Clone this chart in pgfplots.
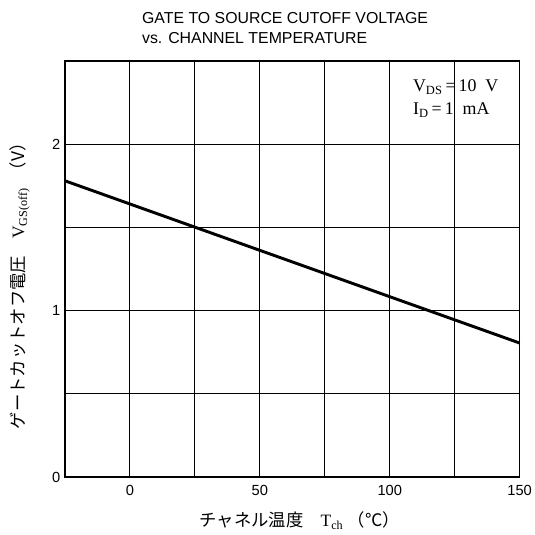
\documentclass[border=0pt]{standalone}
\usepackage{fontspec}
\setmainfont{Liberation Serif}
\newfontfamily\sans{Liberation Sans}
\newfontfamily\cjk{Noto Sans CJK JP}
\usepackage{pgfplots}
\pgfplotsset{compat=1.18}

\begin{document}
\begin{tikzpicture}
\begin{axis}[
    name=ax,
    scale only axis,
    width=341pt, height=312pt,
    xmin=-25, xmax=150,
    ymin=0, ymax=2.5,
    xtick={0,50,100,150},
    minor xtick={-25,25,75,125},
    ytick={0,1,2},
    minor ytick={0.5,1.5},
    grid=both,
    major grid style={black, line width=0.7pt},
    minor grid style={black, line width=0.7pt},
    axis line style={line width=1.1pt},
    major tick length=0pt, minor tick length=0pt,
    /pgf/number format/assume math mode=true,
    tick label style={font=\sans\fontsize{11}{12}\selectfont},
    xticklabel style={yshift=-3pt},
    clip=false,
]
\addplot[black, line width=2.2pt] coordinates {(-25,1.78) (150,0.805)};

\node[anchor=north west, align=left, font=\sans\fontsize{11.9}{15}\selectfont, inner sep=0pt]
    at (rel axis cs:0.169,1.118) {GATE TO SOURCE CUTOFF VOLTAGE\\vs. CHANNEL TEMPERATURE};
\node[anchor=north west, align=left, font=\fontsize{13.4}{17}\selectfont, inner sep=0pt]
    at (rel axis cs:0.765,0.955) {V\textsubscript{DS}\,=\,10\ \ V\\I\textsubscript{D}\,=\,1\ \ mA};
\node[font=\fontsize{13}{15}\selectfont] at (rel axis cs:0.516,-0.105)
    {{\cjk チャネル温度}\quad T\textsubscript{ch}\ {\cjk （℃）}};
\node[rotate=90, font=\fontsize{13}{15}\selectfont] at (rel axis cs:-0.100,0.469)
    {{\cjk ゲートカットオフ電圧}\quad V\textsubscript{GS(off)}\ \ {\cjk （V）}};
\end{axis}
\pgfresetboundingbox
\path ([shift={(-48.75pt,-43.5pt)}]ax.south west) rectangle ([shift={(11.25pt,45.75pt)}]ax.north east);
\end{tikzpicture}
\end{document}
